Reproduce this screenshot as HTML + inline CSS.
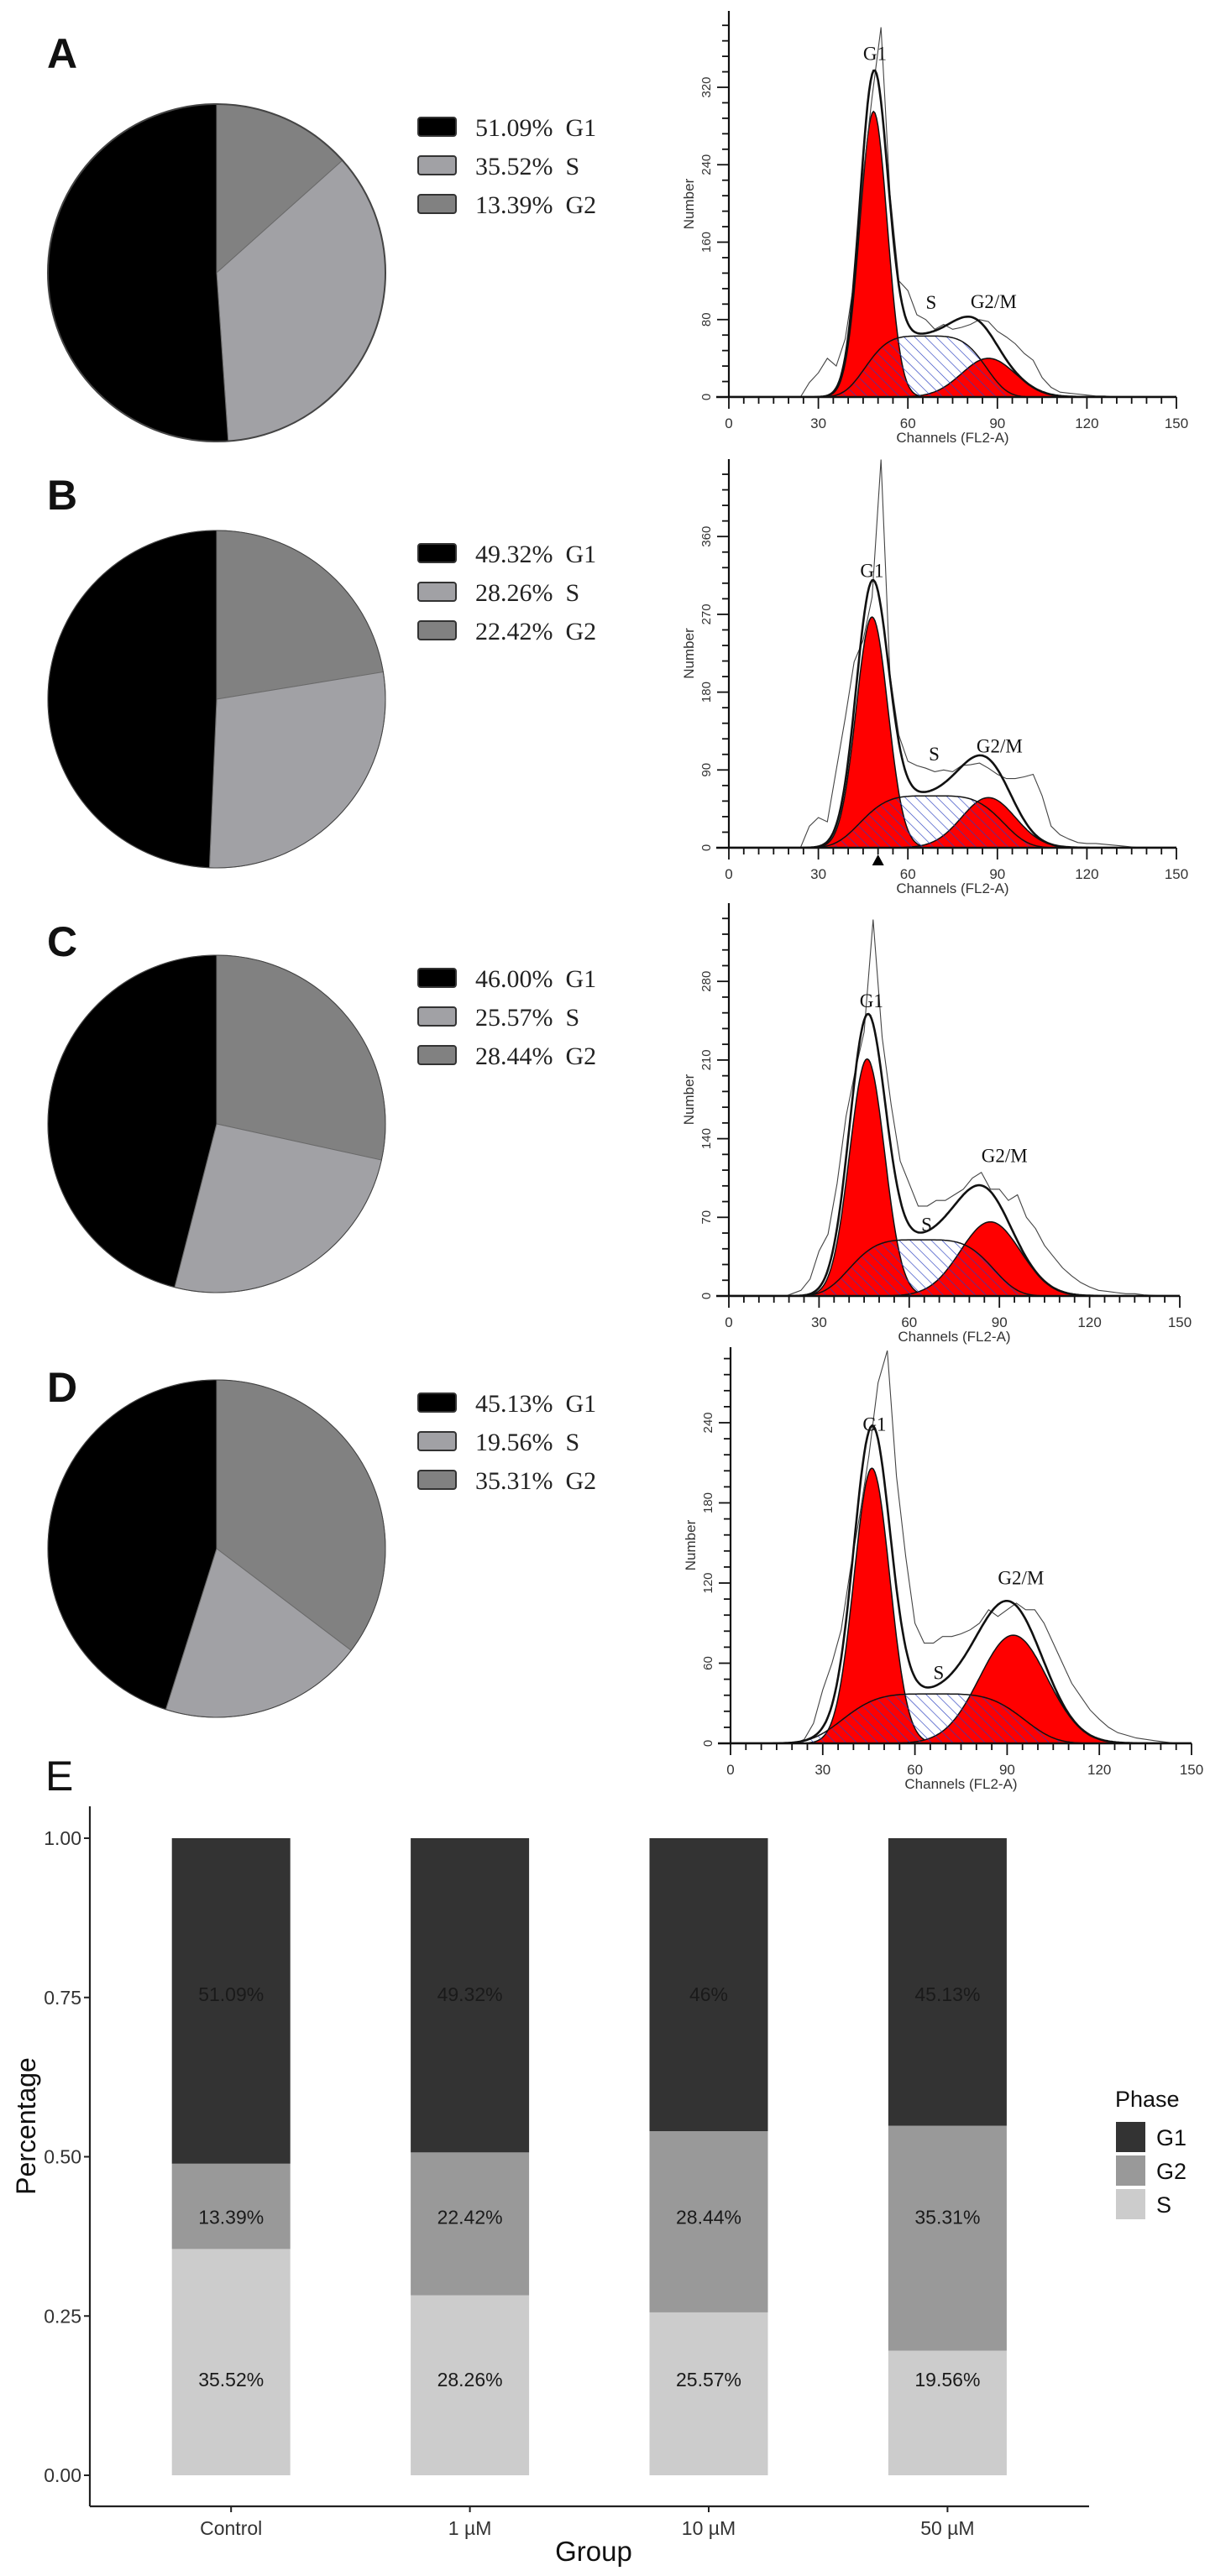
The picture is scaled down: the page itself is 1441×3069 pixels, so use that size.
<!DOCTYPE html>
<html><head><meta charset="utf-8"><style>
html,body{margin:0;padding:0;background:#fff;}
svg{display:block;}
</style></head><body>
<svg id="fig" xmlns="http://www.w3.org/2000/svg" width="1441" height="3069" viewBox="0 0 1441 3069">
<defs>
<pattern id="hatch" patternUnits="userSpaceOnUse" width="9" height="9" patternTransform="rotate(-45)">
<line x1="0" y1="0" x2="0" y2="9" stroke="#2a3fc0" stroke-width="1.3"/>
</pattern>
</defs>
</svg>
<script>
// ---------- DATA ----------
const panelLetters = ['A','B','C','D'];
const pieG1 = [51.09, 49.32, 46.00, 45.13];
const pieS  = [35.52, 28.26, 25.57, 19.56];
const pieG2 = [13.39, 22.42, 28.44, 35.31];
const pieG1Text = ['51.09%','49.32%','46.00%','45.13%'];
const pieSText  = ['35.52%','28.26%','25.57%','19.56%'];
const pieG2Text = ['13.39%','22.42%','28.44%','35.31%'];

// histogram fit components: [mean channel, height, width]
const histG1 = [[48.5,295,4.6],[48,267,5.3],[46,211,5.8],[46,206,5.8]];
const histS  = [[66,63,22],[68,60,26],[64,50,26],[66,37,32]];
const histG2 = [[87,40,9],[87,58,9],[87,66,10],[92,81,11]];
const histTickStep = [80,90,70,60];
const histTickMax = [320,360,280,240];
// raw counts at channels 21,24,...,138
const rawChannels = [21,24,27,30,33,36,39,42,45,48,51,54,57,60,63,66,69,72,75,78,81,84,87,90,93,96,99,102,105,108,111,114,117,120,123,126,129,132,135,138];
const rawA = [0,0,15,25,40,32,60,120,230,310,382,210,120,110,85,80,70,75,70,72,75,80,78,68,62,55,45,38,20,10,5,4,3,2,1,1,0,0,0,0];
const rawB = [0,0,25,35,30,90,150,215,240,290,449,200,130,100,95,92,88,90,88,95,96,98,92,85,80,80,82,85,60,25,15,10,6,5,5,4,3,2,1,0];
const rawC = [2,5,15,40,55,100,160,200,235,335,230,170,120,100,80,80,85,85,90,95,105,110,95,95,85,90,70,60,45,35,25,18,12,8,5,4,3,2,2,1];
const rawD = [0,3,15,40,60,85,130,170,215,270,294,200,140,90,75,75,80,80,82,85,90,100,95,100,105,100,100,90,75,60,45,35,25,18,12,8,6,4,3,2];
const histLabelG1 = [[45,348],[44,313],[43.5,257],[43,234]];
const histLabelS  = [[66,91],[67,101],[64,58],[66,48]];
const histLabelG2 = [[81,92],[83,110],[84,119],[87,119]];

// stacked bar chart
const groups = ['Control','1 \u00b5M','10 \u00b5M','50 \u00b5M'];
const barS  = [0.3552, 0.2826, 0.2557, 0.1956];
const barG2 = [0.1339, 0.2242, 0.2844, 0.3531];
const barG1 = [0.5109, 0.4932, 0.4600, 0.4513];
const labS  = ['35.52%','28.26%','25.57%','19.56%'];
const labG2 = ['13.39%','22.42%','28.44%','35.31%'];
const labG1 = ['51.09%','49.32%','46%','45.13%'];
const labPosY = [0.15, 0.405, 0.755];
const yTicks = [0, 0.25, 0.5, 0.75, 1.0];
const yTickLabels = ['0.00','0.25','0.50','0.75','1.00'];
const legendPhases = ['G1','G2','S'];

// ---------- LAYOUT ----------
const NS='http://www.w3.org/2000/svg';
const svg=document.getElementById('fig');
function mk(tag, attrs, parent){const e=document.createElementNS(NS,tag);for(const k in attrs)e.setAttribute(k,attrs[k]);(parent||svg).appendChild(e);return e;}
const pieCY=[325,833,1339,1845];
const letterY=[64,590,1122,1653];
const pieCX=258, pieR=201;
const COL_G1='#000000', COL_S='#a1a1a5', COL_G2='#818181';
const SERIF='"Liberation Serif", serif', SANS='"Liberation Sans", sans-serif';

function arcPath(cx,cy,r,a0,a1){
  const p0=[cx+r*Math.sin(a0),cy-r*Math.cos(a0)], p1=[cx+r*Math.sin(a1),cy-r*Math.cos(a1)];
  const large=(a1-a0)>Math.PI?1:0;
  return `M${cx},${cy} L${p0[0]},${p0[1]} A${r},${r} 0 ${large} 1 ${p1[0]},${p1[1]} Z`;
}

for(let i=0;i<4;i++){
  const g=mk('g',{});
  
  
  const L=mk('text',{x:56,y:letterY[i]+17,'font-family':SANS,'font-weight':'bold','font-size':50,fill:'#111'},g);
  L.textContent=panelLetters[i];
  
  
  const tot=pieG1[i]+pieS[i]+pieG2[i];
  const vals=[pieG2[i],pieS[i],pieG1[i]], cols=[COL_G2,COL_S,COL_G1], nm=['g2','s','g1'];
  let a=0;
  for(let k=0;k<3;k++){
    const a1=a+vals[k]/tot*2*Math.PI;
    const s=mk('path',{d:arcPath(pieCX,pieCY[i],pieR,a,a1),fill:cols[k],stroke:'#6a6a6a','stroke-width':1},g);
    
    
    a=a1;
  }
  mk('circle',{cx:pieCX,cy:pieCY[i],r:pieR,fill:'none',stroke:'#444','stroke-width':i==0?2:1},g);
  const ly=pieCY[i]-174;
  const texts=[pieG1Text[i]+'  G1',pieSText[i]+'  S',pieG2Text[i]+'  G2'];
  const lc=[COL_G1,COL_S,COL_G2];
  for(let k=0;k<3;k++){
    const r=mk('rect',{x:498,y:ly+k*46-11,width:45,height:22,rx:3,fill:lc[k],stroke:'#333','stroke-width':2},g);
    
    
    const t=mk('text',{x:566,y:ly+k*46+11,'font-family':SERIF,'font-size':30,fill:'#222'},g);
    t.setAttribute('style','white-space:pre');
    t.textContent=texts[k];
    
    
  }
}

// ---------- HISTOGRAMS ----------
const hx0=[868,868,868,870], hx150=[1401,1401,1405,1419];
const hbase=[473,1010,1544,2077], htop=[13,547,1076,1605];
const hppu=[92.25/80,92.7/90,93.7/70,95.5/60];
const raws=[rawA,rawB,rawC,rawD];
function gauss(p,x){return p[1]*Math.exp(-((x-p[0])**2)/(2*p[2]*p[2]));}
function flat(p,x){return p[1]*Math.exp(-Math.pow((x-p[0])/p[2],4));}

for(let i=0;i<4;i++){
  const g=mk('g',{});
  
  
  const X=c=>hx0[i]+(hx150[i]-hx0[i])*c/150;
  const Y=v=>Math.max(htop[i],hbase[i]-v*hppu[i]);
  const clipId='clip'+i;
  const cp=mk('clipPath',{id:clipId},g);
  mk('rect',{x:hx0[i],y:htop[i],width:hx150[i]-hx0[i],height:hbase[i]-htop[i]},cp);
  const plot=mk('g',{'clip-path':`url(#${clipId})`},g);
  function curve(fn){
    let d=`M${X(0)},${hbase[i]}`;
    for(let c=0;c<=150;c+=0.5)d+=` L${X(c).toFixed(1)},${Y(fn(c)).toFixed(1)}`;
    return d+` L${X(150)},${hbase[i]} Z`;
  }
  const g1=c=>gauss(histG1[i],c), sf=c=>flat(histS[i],c), g2=c=>gauss(histG2[i],c);
  let e;
  e=mk('path',{d:curve(g1),fill:'#ff0000',stroke:'#111','stroke-width':1.5},plot);
  
  
  e=mk('path',{d:curve(g2),fill:'#ff0000',stroke:'#111','stroke-width':1.5},plot);
  
  
  e=mk('path',{d:curve(sf),fill:'url(#hatch)',stroke:'#111','stroke-width':1.5},plot);
  
  
  let rd=`M${X(0)},${hbase[i]} L${X(rawChannels[0]-2)},${hbase[i]}`;
  for(let k=0;k<rawChannels.length;k++)rd+=` L${X(rawChannels[k]).toFixed(1)},${Y(raws[i][k]).toFixed(1)}`;
  rd+=` L${X(145)},${hbase[i]}`;
  e=mk('path',{d:rd,fill:'none',stroke:'#444','stroke-width':1.1},plot);
  
  
  let fd='';
  for(let c=0;c<=150;c+=0.5){fd+=(c==0?'M':' L')+X(c).toFixed(1)+','+Y(g1(c)+sf(c)+g2(c)).toFixed(1);}
  e=mk('path',{d:fd,fill:'none',stroke:'#111','stroke-width':2.6},plot);
  
  
  e=mk('line',{x1:X(0),y1:htop[i],x2:X(0),y2:hbase[i],stroke:'#111','stroke-width':2.2},g);
  
  
  e=mk('line',{x1:X(0)-15,y1:hbase[i],x2:X(150),y2:hbase[i],stroke:'#111','stroke-width':2.6},g);
  
  
  const minor=histTickStep[i]/5;
  for(let v=0;hbase[i]-v*hppu[i]>=htop[i]+4;v+=minor){
    const maj=Math.abs(v/histTickStep[i]-Math.round(v/histTickStep[i]))<1e-6;
    mk('line',{x1:X(0)-(maj?14:8),y1:Y(v),x2:X(0),y2:Y(v),stroke:'#111','stroke-width':1.8},g);
  }
  for(let v=0;v<=histTickMax[i];v+=histTickStep[i]){
    const t=mk('text',{x:0,y:0,transform:`translate(${X(0)-22},${Y(v)}) rotate(-90)`,'text-anchor':'middle','font-family':SANS,'font-size':15,fill:'#333'},g);
    t.textContent=String(v);
    
    
  }
  for(let c=0;c<=150;c+=5){
    const maj=c%30==0;
    mk('line',{x1:X(c),y1:hbase[i],x2:X(c),y2:hbase[i]+(maj?14:8),stroke:'#111','stroke-width':1.8},g);
  }
  for(let c=0;c<=150;c+=30){
    const t=mk('text',{x:X(c),y:hbase[i]+37,'text-anchor':'middle','font-family':SANS,'font-size':17,fill:'#333'},g);
    t.textContent=String(c);
    
    
  }
  let t=mk('text',{x:X(75),y:hbase[i]+54,'text-anchor':'middle','font-family':SANS,'font-size':17,fill:'#333'},g);
  t.textContent='Channels (FL2-A)';
  
  
  t=mk('text',{x:0,y:0,transform:`translate(${X(0)-42},${(htop[i]+hbase[i])/2}) rotate(-90)`,'text-anchor':'middle','font-family':SANS,'font-size':17,fill:'#333'},g);
  t.textContent='Number';
  
  
  const labs=[[histLabelG1[i],'G1'],[histLabelS[i],'S'],[histLabelG2[i],'G2/M']];
  for(const [p,s] of labs){
    t=mk('text',{x:X(p[0]),y:Y(p[1]),'font-family':SERIF,'font-size':23,fill:'#111'},g);
    t.textContent=s;
    
    
  }
  if(i==1){
    e=mk('path',{d:`M${X(50)},${hbase[i]+8} l-7,13 l14,0 Z`,fill:'#000'},g);
    
    
  }
}

// ---------- STACKED BAR CHART (E) ----------
const E=mk('g',{});


let el=mk('text',{x:54,y:2133,'font-family':SANS,'font-size':50,fill:'#111'},E);
el.textContent='E';


const axX=107, axR=1297, axBottom=2986, y0=2949, y1=2190;
const by=v=>y0-(y0-y1)*v;
const bandStart=133, bandStep=284.4, barW=141;
const bx=k=>bandStart+bandStep*k+bandStep/2;
const CG1='#333333', CG2='#999999', CS='#cccccc';
for(let k=0;k<groups.length;k++){
  const segs=[[0,barS[k],CS,labS[k],'s',labPosY[0]],[barS[k],barS[k]+barG2[k],CG2,labG2[k],'g2',labPosY[1]],[barS[k]+barG2[k],barS[k]+barG2[k]+barG1[k],CG1,labG1[k],'g1',labPosY[2]]];
  for(const [a,b,c,lab,n,ly] of segs){
    const r=mk('rect',{x:bx(k)-barW/2,y:by(Math.min(b,1)),width:barW,height:by(a)-by(Math.min(b,1)),fill:c},E);
    
    
    const t=mk('text',{x:bx(k),y:by(ly)+8,'text-anchor':'middle','font-family':SANS,'font-size':23,fill:'#1a1a1a'},E);
    t.textContent=lab;
    
    
  }
  const xl=mk('text',{x:bx(k),y:3020,'text-anchor':'middle','font-family':SANS,'font-size':23,fill:'#333'},E);
  xl.textContent=groups[k];
  
  
  mk('line',{x1:bx(k),y1:axBottom,x2:bx(k),y2:axBottom+7,stroke:'#222','stroke-width':2},E);
}
el=mk('line',{x1:axX,y1:2152,x2:axX,y2:axBottom,stroke:'#222','stroke-width':2.2},E);


el=mk('line',{x1:axX,y1:axBottom,x2:axR,y2:axBottom,stroke:'#222','stroke-width':2.2},E);


for(let k=0;k<yTicks.length;k++){
  mk('line',{x1:axX-7,y1:by(yTicks[k]),x2:axX,y2:by(yTicks[k]),stroke:'#222','stroke-width':2},E);
  const t=mk('text',{x:axX-10,y:by(yTicks[k])+8,'text-anchor':'end','font-family':SANS,'font-size':23,fill:'#333'},E);
  t.textContent=yTickLabels[k];
  
  
}
el=mk('text',{x:0,y:0,transform:'translate(42,2533) rotate(-90)','text-anchor':'middle','font-family':SANS,'font-size':32,fill:'#111'},E);
el.textContent='Percentage';


el=mk('text',{x:707,y:3051,'text-anchor':'middle','font-family':SANS,'font-size':33,fill:'#111'},E);
el.textContent='Group';


el=mk('text',{x:1328,y:2510,'font-family':SANS,'font-size':27,fill:'#111'},E);
el.textContent='Phase';


const legCols=[CG1,CG2,CS];
for(let k=0;k<legendPhases.length;k++){
  const r=mk('rect',{x:1329,y:2528+k*40,width:35,height:36,fill:legCols[k]},E);
  
  
  const t=mk('text',{x:1377,y:2556+k*40,'font-family':SANS,'font-size':27,fill:'#111'},E);
  t.textContent=legendPhases[k];
  
  
}
</script>
</body></html>
